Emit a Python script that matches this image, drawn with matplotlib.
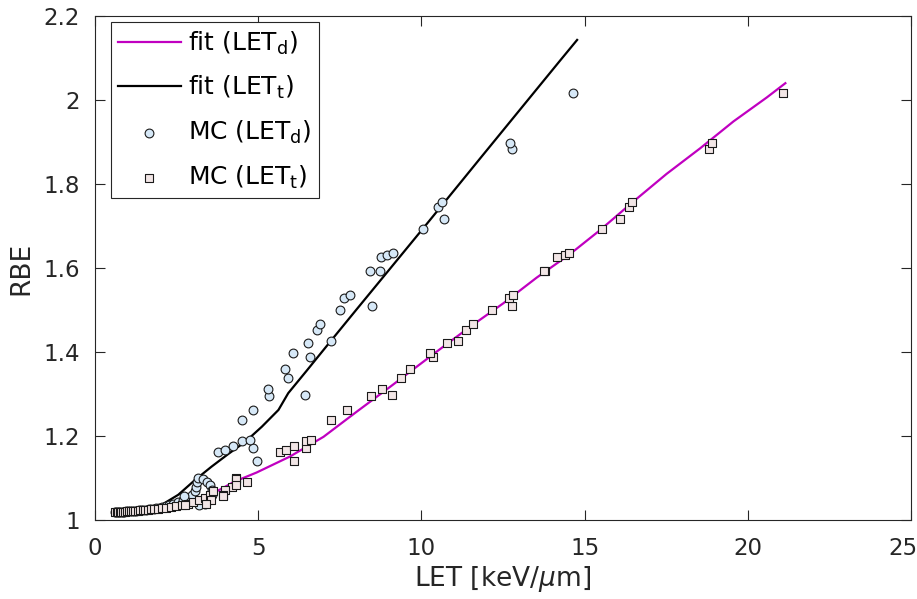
import numpy as np
import matplotlib
matplotlib.use('Agg')
import matplotlib.pyplot as plt
import matplotlib.transforms as mtransforms
from matplotlib.ticker import FormatStrFormatter

# %% MC data: RBE with the matching dose-averaged and track-averaged LET
rbe = [1.019, 1.019, 1.019, 1.020, 1.020, 1.020, 1.020, 1.021, 1.021, 1.021,
       1.022, 1.022, 1.022, 1.023, 1.023, 1.024, 1.024, 1.025, 1.026, 1.027,
       1.028, 1.029, 1.031, 1.033, 1.035, 1.038, 1.042, 1.047, 1.053, 1.060,
       1.068, 1.078, 1.090, 1.099, 1.097, 1.090, 1.083, 1.071, 1.059, 1.047,
       1.039, 1.036, 1.057,
       1.140, 1.162, 1.167, 1.171, 1.176, 1.189, 1.191, 1.237, 1.262, 1.295,
       1.298, 1.313, 1.339, 1.360, 1.388, 1.397, 1.421, 1.427, 1.452, 1.467,
       1.499, 1.510, 1.529, 1.536, 1.592, 1.592, 1.627, 1.631, 1.636, 1.694,
       1.717, 1.745, 1.758, 1.883, 1.897, 2.017]

let_d = [0.60, 0.65, 0.70, 0.75, 0.80, 0.85, 0.90, 0.96, 1.02, 1.08,
         1.14, 1.20, 1.27, 1.34, 1.41, 1.48, 1.56, 1.64, 1.72, 1.80,
         1.88, 1.97, 2.06, 2.16, 2.27, 2.40, 2.55, 2.70, 2.85, 2.98,
         3.06, 3.10, 3.11, 3.15, 3.30, 3.44, 3.53, 3.58, 3.57, 3.48,
         3.36, 3.20, 2.73,
         4.97, 3.76, 3.98, 4.83, 4.22, 4.51, 4.75, 4.49, 4.85, 5.34,
         6.43, 5.29, 5.92, 5.83, 6.59, 6.08, 6.54, 7.22, 6.81, 6.89,
         7.52, 8.48, 7.63, 7.81, 8.73, 8.42, 8.76, 8.96, 9.14, 10.06,
         10.69, 10.52, 10.62, 12.78, 12.71, 14.65]

let_t = [0.61, 0.66, 0.71, 0.76, 0.81, 0.86, 0.92, 0.98, 1.04, 1.10,
         1.17, 1.24, 1.31, 1.38, 1.46, 1.54, 1.63, 1.72, 1.82, 1.93,
         2.05, 2.18, 2.32, 2.48, 2.65, 2.85, 3.01, 3.20, 3.37, 3.52,
         3.62, 4.19, 4.32, 4.31, 4.33, 4.65, 4.32, 3.98, 3.91, 3.55,
         3.40, 2.76, 3.91,
         6.11, 5.67, 5.85, 6.46, 6.11, 6.46, 6.63, 7.22, 7.73, 8.47,
         9.11, 8.78, 9.37, 9.65, 10.37, 10.26, 10.77, 11.11, 11.36, 11.59,
         12.17, 12.76, 12.68, 12.82, 13.79, 13.75, 14.14, 14.40, 14.53, 15.53,
         16.08, 16.36, 16.44, 18.81, 18.89, 21.07]

# %% fitted curves
fit_d_let = [0.60, 1.0, 1.5, 2.0, 2.5, 3.0, 3.63, 4.29, 4.95, 5.97, 7.0, 8.02,
             9.04, 10.47, 11.49, 12.51, 13.53, 14.55, 15.47, 16.49, 17.51,
             18.54, 19.56, 20.58, 21.15]
fit_d_rbe = [1.018, 1.020, 1.024, 1.030, 1.037, 1.048, 1.064, 1.092, 1.113,
             1.151, 1.198, 1.258, 1.317, 1.401, 1.460, 1.516, 1.577, 1.633,
             1.690, 1.758, 1.824, 1.885, 1.949, 2.006, 2.040]

fit_t_let = [0.60, 1.0, 1.5, 2.04, 2.55, 3.06, 3.57, 4.08, 4.60, 5.11, 5.62,
             5.92, 6.48, 7.20, 8.02, 8.94, 10.06, 11.13, 11.80, 14.25, 14.77]
fit_t_rbe = [1.018, 1.021, 1.026, 1.036, 1.060, 1.095, 1.127, 1.157, 1.186,
             1.222, 1.262, 1.302, 1.355, 1.424, 1.502, 1.589, 1.695, 1.797,
             1.861, 2.094, 2.143]

# %% plot
plt.rcParams['font.family'] = 'DejaVu Sans'
fig = plt.figure(figsize=(9.17, 5.99), dpi=100)
ax = fig.add_axes([0.1036, 0.1319, 0.8899, 0.8414])

ax.plot(fit_d_let, fit_d_rbe, color='#c000c0', lw=1.6, label='fit (LET$_\\mathregular{d}$)', zorder=2)
ax.plot(fit_t_let, fit_t_rbe, color='black', lw=1.6, label='fit (LET$_\\mathregular{t}$)', zorder=2)
ax.scatter(let_d, rbe, s=40, marker='o', facecolor='#d6e8f7', edgecolor='#1a1a1a',
           linewidths=0.8, label='MC (LET$_\\mathregular{d}$)', zorder=3)
ax.scatter(let_t, rbe, s=30, marker='s', facecolor='#f2e6e6', edgecolor='#1a1a1a',
           linewidths=0.8, label='MC (LET$_\\mathregular{t}$)', zorder=4)

ax.set_xlim(0, 25)
ax.set_ylim(1, 2.2)
ax.set_xticks([0, 5, 10, 15, 20, 25])
ax.set_yticks([1, 1.2, 1.4, 1.6, 1.8, 2.0, 2.2])
ax.yaxis.set_major_formatter(FormatStrFormatter('%g'))
ax.tick_params(direction='in', length=7, width=0.8, colors='#262626', labelsize=16.5,
               top=True, right=True)
ax.tick_params(axis='x', pad=12)
ax.tick_params(axis='y', pad=11)
for sp in ax.spines.values():
    sp.set_color('#262626')
    sp.set_linewidth(0.8)

# keep the last x tick label inside the figure
last = ax.get_xticklabels()[-1]
last.set_transform(last.get_transform() +
                   mtransforms.ScaledTranslation(-8 / 100, 0, fig.dpi_scale_trans))

ax.set_xlabel('LET [keV/$\\mu$m]', fontsize=19, color='#262626', labelpad=3)
ax.set_ylabel('RBE', fontsize=19, color='#262626', labelpad=6)

leg = ax.legend(loc='upper left', bbox_to_anchor=(0.019, 0.988), fontsize=18,
                handlelength=2.5, handletextpad=0.3, labelspacing=0.7,
                borderpad=0.3, fancybox=False, framealpha=1, borderaxespad=0)
leg.get_frame().set_edgecolor('#262626')
leg.get_frame().set_linewidth(0.8)

fig.savefig('out.png', dpi=100)
